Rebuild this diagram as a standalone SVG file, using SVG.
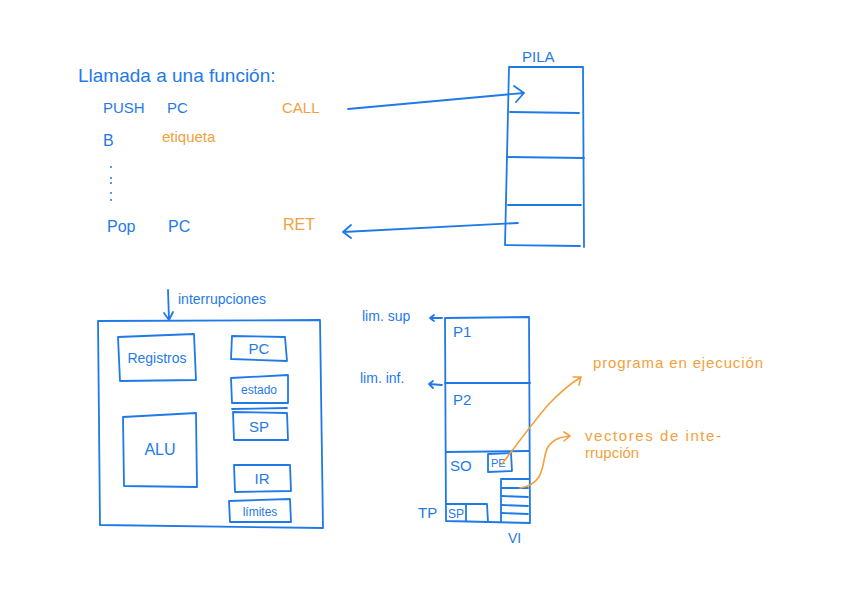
<svg xmlns="http://www.w3.org/2000/svg" width="848" height="599" viewBox="0 0 848 599">
<style>
.b{fill:none;stroke:#1f7ae8;stroke-width:1.8;stroke-linecap:round;stroke-linejoin:round}
.o{fill:none;stroke:#f3a13c;stroke-width:1.6;stroke-linecap:round;stroke-linejoin:round}
.tb{fill:#1f7ae8;font-family:"Liberation Sans",Arial,sans-serif}
.to{fill:#f3a13c;font-family:"Liberation Sans",Arial,sans-serif}
</style>
<rect width="848" height="599" fill="#ffffff"/>
<g id="code">
<text class="tb" x="78" y="82" font-size="19">Llamada a una función:</text>
<text class="tb" x="103" y="113" font-size="15">PUSH</text>
<text class="tb" x="167" y="113" font-size="15">PC</text>
<text class="to" x="282" y="113" font-size="15">CALL</text>
<text class="tb" x="103" y="146" font-size="16">B</text>
<text class="to" x="162" y="142" font-size="15">etiqueta</text>
<g fill="#1f7ae8"><circle cx="111" cy="167" r="1"/><circle cx="111" cy="178" r="1"/><circle cx="111" cy="183" r="1"/><circle cx="111" cy="193" r="1"/><circle cx="111" cy="200" r="1"/></g>
<text class="tb" x="107" y="232" font-size="16">Pop</text>
<text class="tb" x="168" y="232" font-size="16">PC</text>
<text class="to" x="283" y="230" font-size="16">RET</text>
</g>
<g id="pila">
<text class="tb" x="522" y="62" font-size="15">PILA</text>
<path class="b" d="M509,67 L583,67 L584,247 M509,67 L505,245 L580,246"/>
<path class="b" d="M510,112 L579,113 M507,157 L584,158 M508,205 L581,205"/>
</g>
<g id="cpu">
<text class="tb" x="178" y="304" font-size="14">interrupciones</text>
<path class="b" d="M98,321 L320,320 L323,528 L100,525 Z"/>
<path class="b" d="M118,337 L194,334 L196,380 L120,381 Z"/>
<text class="tb" x="157" y="363" font-size="14" text-anchor="middle">Registros</text>
<path class="b" d="M123,417 L196,413 L197,487 L124,486 Z"/>
<text class="tb" x="160" y="455" font-size="16" text-anchor="middle">ALU</text>
<path class="b" d="M232,336 L285,337 L287,361 L231,359 Z"/>
<text class="tb" x="259" y="354" font-size="15" text-anchor="middle">PC</text>
<path class="b" d="M231,378 L288,375 L288,403 L232,403 Z"/>
<text class="tb" x="259" y="394" font-size="12" text-anchor="middle">estado</text>
<path class="b" d="M232,409 L287,408"/>
<path class="b" d="M233,412 L287,413 L288,440 L234,440 Z"/>
<text class="tb" x="259" y="432" font-size="15" text-anchor="middle">SP</text>
<path class="b" d="M234,465 L290,465 L291,491 L235,492 Z"/>
<text class="tb" x="262" y="484" font-size="15" text-anchor="middle">IR</text>
<path class="b" d="M229,501 L290,499 L291,522 L230,522 Z"/>
<text class="tb" x="260" y="516" font-size="12" text-anchor="middle">límites</text>
</g>
<g id="memoria">
<path class="b" d="M445,318 L529,317 L530,523 L446,521 Z"/>
<path class="b" d="M445,383 L530,383 M446,452 L529,451"/>
<text class="tb" x="453" y="337" font-size="15">P1</text>
<text class="tb" x="453" y="405" font-size="15">P2</text>
<text class="tb" x="450" y="471" font-size="15">SO</text>
<path class="b" d="M488,454 L511,453 L512,471 L488,472 Z"/>
<text class="tb" x="491" y="467" font-size="11">PE</text>
<path class="b" d="M501,479 L529,479 M501,479 L501,522 M502,488 L528,488 M502,496 L528,497 M502,505 L528,506 M502,513 L528,514"/>
<path class="b" d="M446,504 L487,504 L488,522 M466,504 L466,521"/>
<text class="tb" x="448" y="518" font-size="12">SP</text>
<text class="tb" x="418" y="518" font-size="15">TP</text>
<text class="tb" x="508" y="543" font-size="14">VI</text>
<text class="tb" x="362" y="321" font-size="14">lim. sup</text>
<text class="tb" x="360" y="383" font-size="14">lim. inf.</text>
</g>
<g id="anotaciones">
<text class="to" x="593" y="368" font-size="15" textLength="170">programa en ejecución</text>
<text class="to" x="585" y="441" font-size="15" textLength="136">vectores de inte-</text>
<text class="to" x="585" y="458" font-size="15">rrupción</text>
</g>
<g id="connectors">
<path class="b" d="M348,109 L524,93 M514,86 L524,93 L516,102"/>
<path class="b" d="M518,223 L343,232 M351,225 L343,232 L351,238"/>
<path class="b" d="M168,290 L169,320 M164,313 L169,320 L173,312"/>
<path class="b" d="M442,318 L430,318 M434,315 L430,318 L434,321"/>
<path class="b" d="M442,385 L429,384 M433,381 L429,384 L433,388"/>
<path class="o" d="M502,464 C520,440 535,420 548,405 C560,392 570,384 581,377 M573,377 L581,377 L579,385"/>
<path class="o" d="M520,488 C548,484 541,458 548,447 C554,438 562,437 570,436 M564,432 L570,436 L564,441"/>
</g>
</svg>
